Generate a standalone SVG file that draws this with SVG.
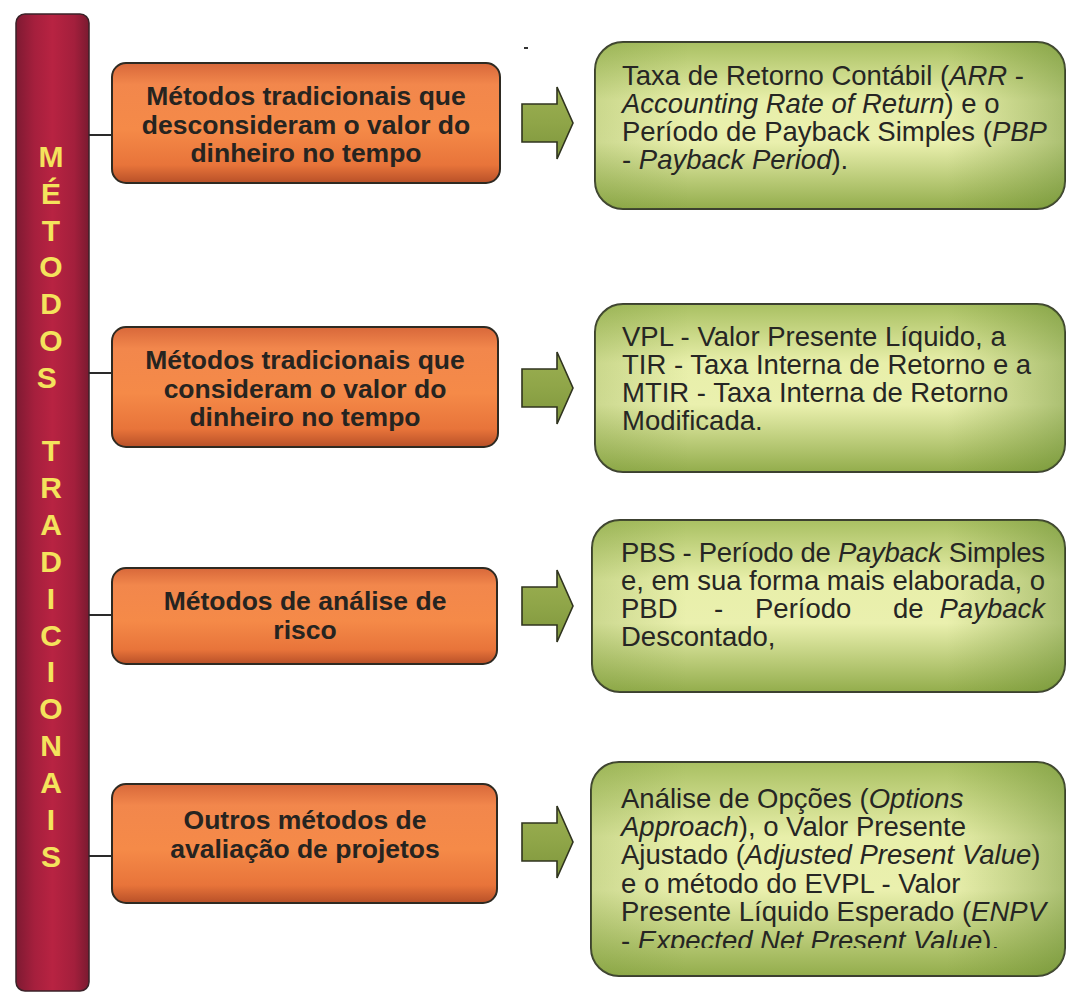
<svg xmlns="http://www.w3.org/2000/svg" width="1067" height="994" viewBox="0 0 1067 994">
<defs>
<linearGradient id="barG" x1="0" y1="0" x2="1" y2="0">
<stop offset="0" stop-color="#7e1a32"/><stop offset="0.25" stop-color="#a51f3d"/><stop offset="0.5" stop-color="#b82342"/><stop offset="0.8" stop-color="#a31f3c"/><stop offset="1" stop-color="#7a1a30"/>
</linearGradient>
<linearGradient id="orG" x1="0" y1="0" x2="0" y2="1">
<stop offset="0" stop-color="#d8683a"/><stop offset="0.18" stop-color="#f2874c"/><stop offset="0.55" stop-color="#f58a48"/><stop offset="0.85" stop-color="#e8743a"/><stop offset="1" stop-color="#b85028"/>
</linearGradient>
<linearGradient id="grV" x1="0" y1="0" x2="0" y2="1">
<stop offset="0" stop-color="#a9c062"/><stop offset="0.35" stop-color="#e8efaa"/><stop offset="0.6" stop-color="#eaf0ae"/><stop offset="1" stop-color="#93ad4c"/>
</linearGradient>
<linearGradient id="grH" x1="0" y1="0" x2="1" y2="0">
<stop offset="0" stop-color="#6f9030" stop-opacity="0.25"/><stop offset="0.2" stop-color="#6f9030" stop-opacity="0"/><stop offset="0.75" stop-color="#6f9030" stop-opacity="0"/><stop offset="1" stop-color="#5e8428" stop-opacity="0.45"/>
</linearGradient>
<linearGradient id="arG" x1="0" y1="0" x2="0" y2="1">
<stop offset="0" stop-color="#9cb052"/><stop offset="0.5" stop-color="#8fa548"/><stop offset="1" stop-color="#7e963c"/>
</linearGradient>
<path id="arrow" d="M0,-19 H35 V-36 L51,0 L35,36 V19 H0 Z"/>
<clipPath id="clip4"><rect x="580" y="760" width="487" height="188"/></clipPath>
</defs>
<style>
.bar{fill:url(#barG);stroke:#3a2228;stroke-width:1.5}
.barT{font-family:"Liberation Sans",Arial,sans-serif;font-weight:bold;font-size:30px;fill:#f4e35c;text-anchor:middle}
.or{fill:url(#orG);stroke:#2e2a22;stroke-width:2}
.orT{font-family:"Liberation Sans",Arial,sans-serif;font-weight:bold;font-size:26.5px;fill:#262420;text-anchor:middle}
.gr{fill:url(#grV);stroke:#3c4030;stroke-width:2}
.grO{fill:url(#grH);stroke:none}
.grT{font-family:"Liberation Sans",Arial,sans-serif;font-size:27.5px;fill:#262624}
.it{font-style:italic}
.arr{fill:url(#arG);stroke:#30341f;stroke-width:1.6}
.con{stroke:#2a2a2a;stroke-width:2;fill:none}
</style>
<rect width="1067" height="994" fill="#ffffff"/>

<g id="bar">
<rect class="bar" x="16" y="14" width="73" height="977" rx="9"/>
<text class="barT">
<tspan x="51" y="167">M</tspan><tspan x="51" y="204">É</tspan><tspan x="51" y="241">T</tspan><tspan x="51" y="277">O</tspan><tspan x="51" y="314">D</tspan><tspan x="51" y="351">O</tspan><tspan x="51" y="388">S</tspan>
<tspan x="51" y="461">T</tspan><tspan x="51" y="498">R</tspan><tspan x="51" y="535">A</tspan><tspan x="51" y="572">D</tspan><tspan x="51" y="609">I</tspan><tspan x="51" y="646">C</tspan><tspan x="51" y="682">I</tspan><tspan x="51" y="719">O</tspan><tspan x="51" y="756">N</tspan><tspan x="51" y="793">A</tspan><tspan x="51" y="830">I</tspan><tspan x="51" y="867">S</tspan>
</text>
</g>

<g id="connectors">
<line class="con" x1="89" y1="135" x2="112" y2="135"/>
<line class="con" x1="89" y1="373" x2="112" y2="373"/>
<line class="con" x1="89" y1="615" x2="112" y2="615"/>
<line class="con" x1="89" y1="856" x2="112" y2="856"/>
<use href="#arrow" class="arr" x="522" y="123"/>
<use href="#arrow" class="arr" x="522" y="388"/>
<use href="#arrow" class="arr" x="522" y="606"/>
<use href="#arrow" class="arr" x="522" y="842"/>
</g>

<g id="m1">
<rect class="or" x="112" y="63" width="388" height="120" rx="14"/>
<text class="orT"><tspan x="306" y="105">Métodos tradicionais que</tspan><tspan x="306" y="133.5">desconsideram o valor do</tspan><tspan x="306" y="162">dinheiro no tempo</tspan></text>
</g>
<g id="m2">
<rect class="or" x="112" y="327" width="386" height="120" rx="14"/>
<text class="orT"><tspan x="305" y="369">Métodos tradicionais que</tspan><tspan x="305" y="397.5">consideram o valor do</tspan><tspan x="305" y="426">dinheiro no tempo</tspan></text>
</g>
<g id="m3">
<rect class="or" x="112" y="568" width="385" height="96" rx="14"/>
<text class="orT"><tspan x="305" y="610">Métodos de análise de</tspan><tspan x="305" y="639">risco</tspan></text>
</g>
<g id="m4">
<rect class="or" x="112" y="784" width="385" height="119" rx="14"/>
<text class="orT"><tspan x="305" y="829">Outros métodos de</tspan><tspan x="305" y="857.5">avaliação de projetos</tspan></text>
</g>

<g id="r1">
<rect class="gr" x="595" y="42" width="470" height="167" rx="28"/>
<rect class="grO" x="595" y="42" width="470" height="167" rx="28"/>
<text class="grT"><tspan x="622" y="85">Taxa de Retorno Contábil (<tspan class="it">ARR</tspan> -</tspan><tspan x="622" y="113"><tspan class="it">Accounting Rate of Return</tspan>) e o</tspan><tspan x="622" y="141">Período de Payback Simples (<tspan class="it">PBP</tspan></tspan><tspan x="622" y="169">- <tspan class="it">Payback Period</tspan>).</tspan></text>
</g>
<g id="r2">
<rect class="gr" x="595" y="304" width="470" height="168" rx="28"/>
<rect class="grO" x="595" y="304" width="470" height="168" rx="28"/>
<text class="grT"><tspan x="622" y="346">VPL - Valor Presente Líquido, a</tspan><tspan x="622" y="374">TIR - Taxa Interna de Retorno e a</tspan><tspan x="622" y="402">MTIR - Taxa Interna de Retorno</tspan><tspan x="622" y="430">Modificada.</tspan></text>
</g>
<g id="r3">
<rect class="gr" x="592" y="520" width="473" height="172" rx="28"/>
<rect class="grO" x="592" y="520" width="473" height="172" rx="28"/>
<text class="grT"><tspan x="621" y="562" textLength="424" lengthAdjust="spacing">PBS - Período de <tspan class="it">Payback</tspan> Simples</tspan><tspan x="621" y="590" textLength="424" lengthAdjust="spacing">e, em sua forma mais elaborada, o</tspan><tspan x="621" y="618">PBD</tspan><tspan x="714" y="618">-</tspan><tspan x="755" y="618">Período</tspan><tspan x="893" y="618">de</tspan><tspan x="1045" y="618" class="it" text-anchor="end">Payback</tspan><tspan x="621" y="646">Descontado,</tspan></text>
</g>
<g id="r4">
<rect class="gr" x="591" y="762" width="474" height="214" rx="28"/>
<rect class="grO" x="591" y="762" width="474" height="214" rx="28"/>
<text class="grT" clip-path="url(#clip4)"><tspan x="621" y="808">Análise de Opções (<tspan class="it">Options</tspan></tspan><tspan x="621" y="836"><tspan class="it">Approach</tspan>), o Valor Presente</tspan><tspan x="621" y="864">Ajustado (<tspan class="it">Adjusted Present Value</tspan>)</tspan><tspan x="621" y="893">e o método do EVPL - Valor</tspan><tspan x="621" y="921">Presente Líquido Esperado (<tspan class="it">ENPV</tspan></tspan><tspan x="621" y="950">- <tspan class="it">Expected Net Present Value</tspan>).</tspan></text>
</g>
<rect x="524" y="47" width="4" height="2" fill="#333"/>
</svg>
